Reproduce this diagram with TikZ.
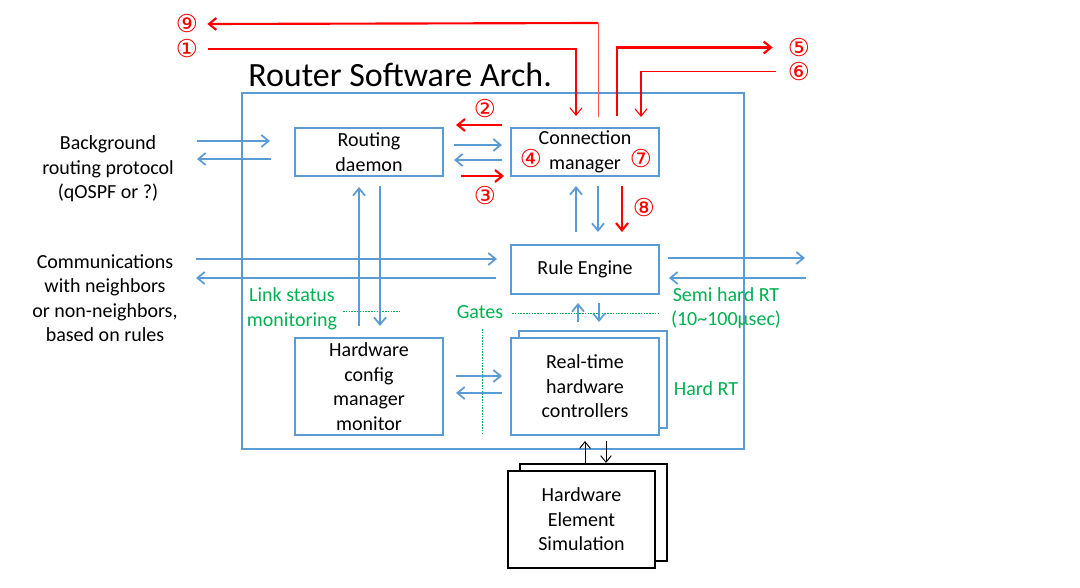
\documentclass[tikz,border=0pt]{standalone}
\usepackage{fontspec}
\setmainfont{Carlito}
\newfontfamily\circfont{DejaVu Sans}
\usetikzlibrary{arrows.meta,calc}
\definecolor{obl}{RGB}{91,155,213}
\definecolor{ogr}{RGB}{0,176,80}
\definecolor{ored}{RGB}{255,0,0}
\begin{document}
\begin{tikzpicture}[x=0.75pt,y=-0.75pt,
  font=\fontsize{15}{18.4}\selectfont,
  box/.style={draw=obl, line width=1.5pt, fill=white, align=center, inner sep=0pt},
  bbox/.style={draw=black, line width=1.6pt, fill=white, align=center, inner sep=0pt},
  barrow/.style={draw=obl, line width=1.3pt, -{Straight Barb[length=5.5pt,width=9pt]}},
  karrow/.style={draw=black, line width=0.7pt, -{Straight Barb[length=5pt,width=8pt]}},
  rarrow/.style={draw=ored, line width=1.6pt, -{Straight Barb[length=5.5pt,width=9pt]}},
  rthin/.style={draw=ored, line width=0.8pt},
  circ/.style={text=ored, font=\circfont\fontsize{18.5}{18.5}\selectfont, inner sep=0pt},
  glab/.style={text=ogr, align=center, inner sep=0pt},
  gdot/.style={draw=ogr, line width=0.7pt, dash pattern=on 1.2pt off 0.9pt},
  plain/.style={align=center, inner sep=0pt}]
\useasboundingbox (0,0) rectangle (1080,588);

% outer frame and title
\node[draw=obl, line width=1.5pt, minimum width=376.5pt, minimum height=267pt, inner sep=0pt] (outer) at (493,271) {};
\node[anchor=base west, inner sep=0pt, font=\fontsize{25.5}{30}\selectfont] (title) at (248,87) {Router Software Arch.};

% boxes
\node[box, minimum width=111pt, minimum height=36pt] (rd) at (369,152) {\raisebox{-1.5pt}{\parbox{100pt}{\centering Routing\\daemon}}};
\node[box, minimum width=111pt, minimum height=36pt] (cm) at (585,152) {\raisebox{-1.5pt}{\parbox{100pt}{\centering Connection\\manager}}};
\node[box, minimum width=111pt, minimum height=36.75pt] (re) at (585,269.5) {Rule Engine};
\node[box, minimum width=111pt, minimum height=72.75pt] (hw) at (369,386.5) {Hardware\\config\\manager\\monitor};
\node[box, minimum width=111pt, minimum height=72.75pt] (rtb) at (593,379.5) {};
\node[box, minimum width=111pt, minimum height=72.75pt] (rt) at (585,386.5) {Real-time\\hardware\\controllers};
\node[bbox, minimum width=110.25pt, minimum height=73pt] (hesb) at (593.5,512.5) {};
\node[bbox, minimum width=110.25pt, minimum height=73pt] (hes) at (581.5,519.5) {Hardware\\Element\\Simulation};

% outside texts
\node[plain] (bg) at (108,169) {Background\\routing protocol\\(qOSPF or ?)};
\node[plain] (comm) at (105,298) {Communications\\with neighbors\\or non-neighbors,\\based on rules};

% green labels
\node[glab] (lsm) at (292,309) {Link status\\monitoring};
\node[glab] (gates) at (480,312) {Gates};
\node[glab] (semi) at (726,308) {Semi hard RT\\(10\textasciitilde100µsec)};
\node[glab] (hard) at (706,389) {Hard RT};
\coordinate (ls1) at (343,311);
\coordinate (ls2) at (400,311);
\coordinate (gh1) at (512,313);
\coordinate (gh2) at (658,313);
\coordinate (gv1) at (482,329);
\coordinate (gv2) at (482,435);
\draw[gdot] (ls1) -- (ls2);
\draw[gdot] (gh1) -- (gh2);
\draw[gdot] (gv1) -- (gv2);

% circled numbers
\node[circ] (n9) at (187,24) {⑨};
\node[circ] (n1) at (187,49) {①};
\node[circ] (n5) at (799,47.5) {⑤};
\node[circ] (n6) at (799,71.5) {⑥};
\node[circ] (n2) at (485,109) {②};
\node[circ] (n3) at (485,196) {③};
\node[circ] (n4) at (531,159) {④};
\node[circ] (n7) at (641,159) {⑦};
\node[circ] (n8) at (644,208) {⑧};

% blue connectors
\draw[barrow] ($(rd.west)+(-97,-11)$) -- ($(rd.west)+(-24,-11)$);
\draw[barrow] ($(rd.west)+(-23,7)$) -- ($(rd.west)+(-97,7)$);
\draw[barrow] ($(rd.east)+(10,-7)$) -- ($(cm.west)+(-8,-7)$);
\draw[barrow] ($(cm.west)+(-8,8)$) -- ($(rd.east)+(10,8)$);
\draw[barrow] ($(re.west)+(-314,-10.5)$) -- ($(re.west)+(-13,-10.5)$);
\draw[barrow] ($(re.west)+(-14,8.5)$) -- ($(re.west)+(-314,8.5)$);
\draw[barrow] ($(re.east)+(8,-11.5)$) -- ($(re.east)+(145,-11.5)$);
\draw[barrow] ($(re.east)+(146,8.5)$) -- ($(re.east)+(9,8.5)$);
\draw[barrow] ($(re.north)+(-9,-12)$) -- ($(cm.south)+(-9,9)$);
\draw[barrow] ($(cm.south)+(13,9)$) -- ($(re.north)+(13,-12)$);
\draw[barrow] ($(hw.north)+(-10,-11)$) -- ($(rd.south)+(-10,10)$);
\draw[barrow] ($(rd.south)+(11,9)$) -- ($(hw.north)+(11,-11)$);
\draw[barrow] ($(rt.north)+(-7,-15)$) -- ($(re.south)+(-7,8)$);
\draw[barrow] ($(re.south)+(14,8)$) -- ($(rt.north)+(14,-15)$);
\draw[barrow] ($(hw.east)+(12,-10.5)$) -- ($(rt.west)+(-8,-10.5)$);
\draw[barrow] ($(rt.west)+(-8,6.5)$) -- ($(hw.east)+(12,6.5)$);

% black connectors
\draw[karrow] ($(rt.south)+(0,28)$) -- ($(rt.south)+(0,5)$);
\draw[karrow] ($(rt.south)+(21,5)$) -- ($(rt.south)+(21,27)$);

% red connectors
\draw[rarrow] ($(cm.west)+(-8,-27)$) -- ($(rd.east)+(12,-27)$);
\draw[rarrow] ($(rd.east)+(17,24)$) -- ($(cm.west)+(-6,24)$);
\draw[rarrow] ($(cm.south)+(37,9)$) -- ($(re.north)+(37,-12)$);
\draw[rthin, -{Straight Barb[length=5.5pt,width=9pt]}] ($(n1.east)+(10,0)$) -| ($(cm.north)+(-9,-11)$);
\coordinate (c9) at ($(cm.north)+(13,-104)$);
\draw[draw=ored!70, line width=0.7pt] ($(cm.north)+(13,-10)$) -- (c9);
\draw[rarrow] (c9) -- ($(n9.east)+(9,0)$);
\draw[rarrow] ($(cm.north)+(32,-11)$) |- ($(n5.west)+(-15,0)$);
\draw[rthin, -{Straight Barb[length=5.5pt,width=9pt]}] ($(n6.west)+(-12,0)$) -| ($(cm.north)+(56,-10)$);
\end{tikzpicture}
\end{document}
